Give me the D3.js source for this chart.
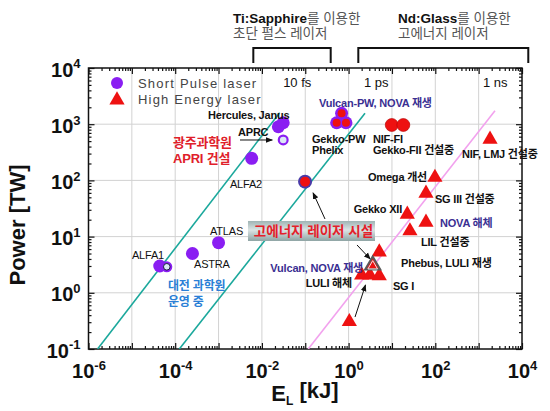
<!DOCTYPE html>
<html><head><meta charset="utf-8">
<script src="https://cdn.jsdelivr.net/npm/d3@7"></script>
<style>body{margin:0;background:#fff} svg{display:block}</style>
</head><body><svg id="c" width="550" height="411"></svg>
<script>
// ---------- data ----------
const xDecadeLabels = [-6, -4, -2, 0, 2, 4];
const yDecadeLabels = [-1, 0, 1, 2, 3, 4];

// short pulse (Ti:Sapphire) lasers, purple circles
const spNames = ["ALFA1", "ALFA1b", "ASTRA", "ATLAS", "ALFA2", "Hercules", "Janus", "APRC"];
const spE = [4.4e-5, 6.4e-5, 2.5e-4, 1.0e-3, 5.8e-3, 0.024, 0.031, 0.031];
const spP = [3.0, 2.9, 5.0, 7.8, 247, 900, 1060, 524];
const spOpen = [false, true, false, false, false, false, false, true];

// PW-class short pulse on Nd:Glass (red with purple rim)
const pwNames = ["고에너지 시설", "Gekko-PW", "Phelix", "Vulcan-PW"];
const pwE = [0.099, 0.53, 0.87, 0.69];
const pwP = [95, 1060, 1060, 1560];

// NIF-FI / Gekko-FII (red circles)
const fiNames = ["NIF-FI", "Gekko-FII"];
const fiE = [9.9, 18.3];
const fiP = [968, 968];

// high energy lasers (red triangles)
const heNames = ["bottom", "LULI", "mid", "SG I", "Phebus", "Vulcan/NOVA", "LIL", "Gekko XII", "NOVA", "SG III", "Omega", "NIF/LMJ"];
const heE = [1.04, 2.0, 3.1, 5.1, 5.1, 3.6, 26, 22.6, 61, 61, 98, 1830];
const heP = [0.306, 2.07, 2.07, 2.0, 5.3, 3.1, 12.6, 24.9, 18, 59, 113, 538];
const heSpecial = [false, false, false, false, false, true, false, false, false, false, false, false];

// pulse-duration lines: [E0,P0,E1,P1]
const lineNames = ["10 fs", "1 ps", "1 ns"];
const lineE0 = [1.62e-6, 1.245e-4, 0.117];
const lineP0 = [0.1, 0.1, 0.1];
const lineE1 = [0.0257, 2.39, 2380];
const lineP1 = [1600, 1560, 1740];
const lineColors = ["#1ba89c", "#1ba89c", "#f2a2ee"];
// labels of the lines (log10 positions)
const durLabel = ["10 fs", "1 ps", "1 ns"];
const durLX = [-1.51, 0.355, 3.10];
const durLY = [3.66, 3.66, 3.66];

// annotations: text, log10 E, log10 P, anchor, color, weight, size
const ann = [
  ["Hercules, Janus", -3.243, 3.164, "start", "#111", 700, 11],
  ["APRC", -2.551, 2.861, "start", "#111", 700, 11],
  ["광주과학원", -4.051, 2.683, "start", "#e0202a", 700, 13],
  ["APRI 건설", -4.051, 2.399, "start", "#e0202a", 700, 13],
  ["ALFA2", -2.736, 1.936, "start", "#111", 400, 11],
  ["ATLAS", -3.197, 1.100, "start", "#111", 400, 11],
  ["ALFA1", -4.997, 0.673, "start", "#111", 400, 11],
  ["ASTRA", -3.566, 0.512, "start", "#111", 400, 11],
  ["대전 과학원", -4.166, 0.121, "start", "#2a7fd6", 700, 12],
  ["운영 중", -4.166, -0.164, "start", "#2a7fd6", 700, 12],
  ["Vulcan, NOVA 재생", 0.332, 0.441, "end", "#3a2f92", 700, 11],
  ["LULI 해체", 0.078, 0.174, "end", "#111", 700, 11],
  ["SG I", 1.024, 0.121, "start", "#111", 700, 11],
  ["Phebus, LULI 재생", 1.209, 0.530, "start", "#111", 700, 11],
  ["LIL 건설중", 1.670, 0.904, "start", "#111", 700, 11],
  ["NOVA 해체", 2.108, 1.242, "start", "#3a2f92", 700, 11],
  ["Gekko XII", 1.232, 1.491, "end", "#111", 700, 11],
  ["SG III 건설중", 1.993, 1.669, "start", "#111", 700, 11],
  ["Omega 개선", 1.809, 2.052, "end", "#111", 700, 11],
  ["Vulcan-PW, NOVA 재생", -0.683, 3.368, "start", "#3a2f92", 700, 11],
  ["Gekko-PW", -0.844, 2.728, "start", "#111", 700, 11],
  ["Phelix", -0.844, 2.541, "start", "#111", 700, 11],
  ["NIF-FI", 0.563, 2.728, "start", "#111", 700, 11],
  ["Gekko-FII 건설중", 0.563, 2.541, "start", "#111", 700, 11],
  ["NIF, LMJ 건설중", 2.616, 2.470, "start", "#111", 700, 11]
];
// arrows (log10 from -> to)
const arrows = [
  [-2.505, 2.719, -1.76, 2.719],
  [-0.544, 1.313, -0.82, 1.78],
  [0.194, 0.851, 0.50, 0.60],
  [0.148, -0.431, 0.39, 0.14]
];
// highlighted box (log10 extents) and text
const boxText = "고에너지 레이저 시설";
const boxLX = [-2.321, 0.609];
const boxLY = [1.278, 0.922];

// brackets over the plot (log10 E extents)
const brkLX0 = [-2.198, 0.224];
const brkLX1 = [-0.413, 4.145];
const brkBold = ["Ti:Sapphire", "Nd:Glass"];
const brkRest = ["를 이용한", "를 이용한"];
const brkLine2 = ["초단 펄스 레이저", "고에너지 레이저"];
const brkTextLX = [-2.667, 1.140];

const legendLabels = ["Short Pulse laser", "High Energy laser"];

// ---------- drawing ----------
const svg = d3.select("#c");
const FONT = "'Liberation Sans', Arial, 'Noto Sans CJK KR', sans-serif";
const KFONT = "'Liberation Sans', Arial, 'Noto Sans CJK KR', sans-serif";
const L = 88.5, R = 522, T = 68, B = 349;
const x = d3.scaleLog().domain([1e-6, 1e4]).range([L, R]);
const y = d3.scaleLog().domain([0.1, 1e4]).range([B, T]);
const px = l => x(Math.pow(10, l));
const py = l => y(Math.pow(10, l));
const PURPLE = "#8a1ef2", RED = "#ee1111";

const defs = svg.append("defs");
defs.append("marker").attr("id", "arr").attr("viewBox", "0 0 10 10").attr("refX", 9).attr("refY", 5)
  .attr("markerWidth", 7).attr("markerHeight", 7).attr("orient", "auto-start-reverse")
  .append("path").attr("d", "M0,1 L10,5 L0,9 z").attr("fill", "#111");
const g = defs.append("linearGradient").attr("id", "boxg").attr("x1", 0).attr("y1", 0).attr("x2", 0).attr("y2", 1);
g.append("stop").attr("offset", "0%").attr("stop-color", "#9fb4b4");
g.append("stop").attr("offset", "45%").attr("stop-color", "#dbe4e4");
g.append("stop").attr("offset", "100%").attr("stop-color", "#8ea4a4");
defs.append("clipPath").attr("id", "clip").append("rect").attr("x", L).attr("y", T).attr("width", R - L).attr("height", B - T);

// grid
const decX = d3.range(-5, 4).map(d => Math.pow(10, d));
const decY = d3.range(0, 4).map(d => Math.pow(10, d));
svg.append("g").selectAll("line").data(decX).join("line")
  .attr("x1", d => x(d)).attr("x2", d => x(d)).attr("y1", T).attr("y2", B)
  .attr("stroke", "#d2d2d2").attr("stroke-width", 1);
svg.append("g").selectAll("line").data(decY).join("line")
  .attr("y1", d => y(d)).attr("y2", d => y(d)).attr("x1", L).attr("x2", R)
  .attr("stroke", "#d2d2d2").attr("stroke-width", 1);

// ticks
const majX = d3.range(-6, 5).map(d => Math.pow(10, d));
const majY = d3.range(-1, 5).map(d => Math.pow(10, d));
const minX = [], minY = [];
for (let d = -6; d < 4; d++) for (let k = 2; k < 10; k++) minX.push(k * Math.pow(10, d));
for (let d = -1; d < 4; d++) for (let k = 2; k < 10; k++) minY.push(k * Math.pow(10, d));
function tickAxis(axisFn, scale, vals, size, tr) {
  const a = svg.append("g").attr("transform", tr)
    .call(axisFn(scale).tickValues(vals).tickSize(-size).tickFormat(""));
  a.select(".domain").remove();
  a.selectAll("line").attr("stroke", "#111").attr("stroke-width", 1.2);
}
tickAxis(d3.axisBottom, x, majX, 6, `translate(0,${B})`);
tickAxis(d3.axisBottom, x, minX, 3, `translate(0,${B})`);
tickAxis(d3.axisTop, x, majX, 6, `translate(0,${T})`);
tickAxis(d3.axisTop, x, minX, 3, `translate(0,${T})`);
tickAxis(d3.axisLeft, y, majY, 6, `translate(${L},0)`);
tickAxis(d3.axisLeft, y, minY, 3, `translate(${L},0)`);
tickAxis(d3.axisRight, y, majY, 6, `translate(${R},0)`);
tickAxis(d3.axisRight, y, minY, 3, `translate(${R},0)`);

function supify(sel, exps) {
  sel.selectAll("text").each(function (d, i) {
    const t = d3.select(this).text(null);
    t.append("tspan").text("10");
    t.append("tspan").attr("dy", "-0.62em").attr("font-size", "13px").text(exps[i]);
  });
}
const xl = svg.append("g").attr("transform", `translate(0,${B})`)
  .call(d3.axisBottom(x).tickValues(xDecadeLabels.map(e => Math.pow(10, e))).tickSize(0).tickPadding(15));
xl.select(".domain").remove();
xl.selectAll("text").attr("font-family", FONT).attr("font-size", 20).attr("font-weight", 700).attr("fill", "#111");
supify(xl, xDecadeLabels);
const yl = svg.append("g").attr("transform", `translate(${L},0)`)
  .call(d3.axisLeft(y).tickValues(yDecadeLabels.map(e => Math.pow(10, e))).tickSize(0).tickPadding(8));
yl.select(".domain").remove();
yl.selectAll("text").attr("font-family", FONT).attr("font-size", 20).attr("font-weight", 700).attr("fill", "#111").attr("dy", "0.4em");
supify(yl, yDecadeLabels);

// axis titles
const xt = svg.append("text").attr("x", 305).attr("y", 401).attr("text-anchor", "middle")
  .attr("font-family", FONT).attr("font-size", 22).attr("font-weight", 700).attr("fill", "#111");
xt.append("tspan").text("E");
xt.append("tspan").attr("dy", "0.35em").attr("font-size", "12px").text("L");
xt.append("tspan").attr("dy", "-0.35em").text(" [kJ]");
svg.append("text").attr("transform", "translate(25,225) rotate(-90)").attr("text-anchor", "middle")
  .attr("font-family", FONT).attr("font-size", 22).attr("font-weight", 700).attr("fill", "#111")
  .text("Power [TW]");

// border
svg.append("rect").attr("x", L).attr("y", T).attr("width", R - L).attr("height", B - T)
  .attr("fill", "none").attr("stroke", "#111").attr("stroke-width", 1.5);

// lines
const plot = svg.append("g").attr("clip-path", "url(#clip)");
plot.selectAll("line.dur").data(lineNames).join("line").attr("class", "dur")
  .attr("x1", (d, i) => x(lineE0[i])).attr("y1", (d, i) => y(lineP0[i]))
  .attr("x2", (d, i) => x(lineE1[i])).attr("y2", (d, i) => y(lineP1[i]))
  .attr("stroke", (d, i) => lineColors[i]).attr("stroke-width", 1.6);
svg.selectAll("text.dur").data(durLabel).join("text").attr("class", "dur")
  .attr("x", (d, i) => px(durLX[i])).attr("y", (d, i) => py(durLY[i]))
  .attr("font-family", FONT).attr("font-size", 13).attr("fill", "#111").text(d => d);

// box
svg.append("rect").attr("x", px(boxLX[0])).attr("y", py(boxLY[0]))
  .attr("width", px(boxLX[1]) - px(boxLX[0])).attr("height", py(boxLY[1]) - py(boxLY[0]))
  .attr("fill", "url(#boxg)");
svg.append("text").attr("x", (px(boxLX[0]) + px(boxLX[1])) / 2 + 2).attr("y", (py(boxLY[0]) + py(boxLY[1])) / 2)
  .attr("dy", "0.36em").attr("text-anchor", "middle").attr("font-family", KFONT).attr("font-size", 13.5)
  .attr("font-weight", 700).attr("fill", "#e4202a").text(boxText);

// arrows
svg.selectAll("line.arr").data(arrows).join("line").attr("class", "arr")
  .attr("x1", d => px(d[0])).attr("y1", d => py(d[1])).attr("x2", d => px(d[2])).attr("y2", d => py(d[3]))
  .attr("stroke", "#111").attr("stroke-width", 1).attr("marker-end", "url(#arr)");

// triangles
const tri = d3.symbol().type(d3.symbolTriangle).size(100);
svg.selectAll("path.he").data(heNames).join("path").attr("class", "he")
  .attr("d", tri).attr("transform", (d, i) => `translate(${x(heE[i])},${y(heP[i])})`)
  .attr("fill", RED).attr("stroke", (d, i) => heSpecial[i] ? "#5a5a5a" : "none")
  .attr("stroke-width", 2);
svg.selectAll("path.hes").data(heNames.filter((d, i) => heSpecial[i])).join("path").attr("class", "hes")
  .attr("d", d3.symbol().type(d3.symbolTriangle).size(40))
  .attr("transform", d => { const i = heNames.indexOf(d); return `translate(${x(heE[i])},${y(heP[i]) + 1})`; })
  .attr("fill", "none").attr("stroke", "#e8e8e8").attr("stroke-width", 1);

// short pulse circles
svg.selectAll("circle.sp").data(spNames).join("circle").attr("class", "sp")
  .attr("cx", (d, i) => x(spE[i])).attr("cy", (d, i) => y(spP[i]))
  .attr("r", (d, i) => spOpen[i] ? 5.5 : 6.5).attr("fill", PURPLE);
svg.selectAll("circle.spo").data(spNames.filter((d, i) => spOpen[i])).join("circle").attr("class", "spo")
  .attr("cx", d => x(spE[spNames.indexOf(d)])).attr("cy", d => y(spP[spNames.indexOf(d)]))
  .attr("r", 3.3).attr("fill", "#dbe8f6").attr("stroke", d => d === "APRC" ? "none" : "#1a1a40").attr("stroke-width", 1);

// PW class circles
svg.selectAll("circle.pw").data(pwNames).join("circle").attr("class", "pw")
  .attr("cx", (d, i) => x(pwE[i])).attr("cy", (d, i) => y(pwP[i]))
  .attr("r", (d, i) => i === 0 ? 7 : 6.5).attr("fill", (d, i) => i === 0 ? "#4a3aa8" : PURPLE);
svg.selectAll("circle.pwi").data(pwNames).join("circle").attr("class", "pwi")
  .attr("cx", (d, i) => x(pwE[i])).attr("cy", (d, i) => y(pwP[i]))
  .attr("r", (d, i) => i === 0 ? 5 : 4).attr("fill", RED);

// NIF-FI circles
svg.selectAll("circle.fi").data(fiNames).join("circle").attr("class", "fi")
  .attr("cx", (d, i) => x(fiE[i])).attr("cy", (d, i) => y(fiP[i]))
  .attr("r", 6.5).attr("fill", RED).attr("stroke", "#b00000").attr("stroke-width", 0.6);

// annotations
svg.selectAll("text.ann").data(ann).join("text").attr("class", "ann")
  .attr("x", d => px(d[1])).attr("y", d => py(d[2])).attr("dy", "0.35em")
  .attr("text-anchor", d => d[3]).attr("fill", d => d[4]).attr("font-weight", d => d[5])
  .attr("font-size", d => d[6]).attr("font-family", KFONT).attr("letter-spacing", -0.2).text(d => d[0]);

// legend
const lg = svg.append("g");
lg.append("circle").attr("cx", 117).attr("cy", 83).attr("r", 6).attr("fill", PURPLE);
lg.append("path").attr("d", tri).attr("transform", "translate(117,100)").attr("fill", RED);
lg.selectAll("text").data(legendLabels).join("text")
  .attr("x", 138).attr("y", (d, i) => 83 + i * 16.5).attr("dy", "0.36em")
  .attr("font-family", FONT).attr("font-size", 13).attr("letter-spacing", 1.2).attr("fill", "#444").text(d => d);

// brackets
svg.selectAll("path.brk").data(brkBold).join("path").attr("class", "brk")
  .attr("d", (d, i) => `M${px(brkLX0[i])},63 V48 H${px(brkLX1[i])} V63`)
  .attr("fill", "none").attr("stroke", "#111").attr("stroke-width", 2);
brkBold.forEach((b, i) => {
  const t = svg.append("text").attr("x", px(brkTextLX[i])).attr("y", 23)
    .attr("font-family", KFONT).attr("font-size", 13.5);
  t.append("tspan").attr("font-weight", 700).attr("fill", "#111").text(b);
  t.append("tspan").attr("fill", "#555").text(brkRest[i]);
  svg.append("text").attr("x", px(brkTextLX[i])).attr("y", 37.5)
    .attr("font-family", KFONT).attr("font-size", 13.5).attr("fill", "#555").text(brkLine2[i]);
});
</script></body></html>
